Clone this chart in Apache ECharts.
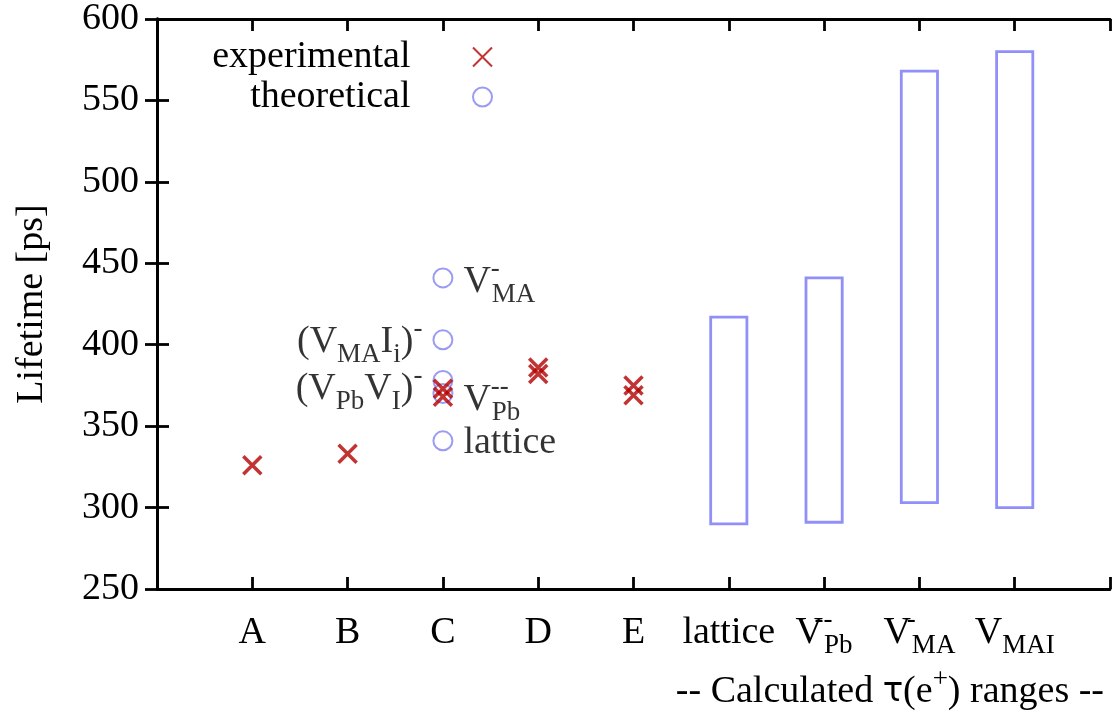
<!DOCTYPE html>
<html><head><meta charset="utf-8">
<script src="https://cdn.jsdelivr.net/npm/echarts@6/dist/echarts.min.js"></script>
<style>html,body{margin:0;padding:0;background:#fff}#c{width:1120px;height:713px}</style>
</head><body><div id="c"></div>
<script>
// ---- data ----
const categories = ['A', 'B', 'C', 'D', 'E', 'lattice', 'VPb', 'VMA', 'VMAI'];
const yTicks = [250, 300, 350, 400, 450, 500, 550, 600];
// experimental: position (1-based category index) and lifetime [ps]
const expX = [1, 2, 3, 3, 4, 4, 5, 5];
const expY = [326, 333, 373, 368, 386, 382, 375, 369];
// theoretical values at C
const theoX = [3, 3, 3, 3, 3];
const theoY = [441, 403, 378, 370, 341];
const theoNames = ['VMA', 'VMAIi', 'VPbVI', 'VPb', 'lattice'];
// calculated ranges
const rangeX = [6, 7, 8, 9];
const rangeLow = [290, 291, 303, 300];
const rangeHigh = [417, 441, 568, 580];

// ---- styling ----
const F = 'Liberation Serif';
const FS = 38, SS = 27, LH = 52, SH = 26;
const RED = '#b30000', BLUE = '#8282f0', BAR = '#9090f8';
const rich = {
  n: {fontFamily: F, fontSize: FS, color: '#000', lineHeight: LH},
  s: {fontFamily: F, fontSize: SS, color: '#000', lineHeight: LH, padding: [SH, 0, 0, 0]},
  p: {fontFamily: F, fontSize: SS, color: '#000', lineHeight: LH, padding: [0, 0, SH, 0]},
  q: {fontFamily: F, fontSize: SS, color: '#000', lineHeight: LH, padding: [0, 0, SH, 0], width: 1, overflow: 'none'},
  t: {fontFamily: 'DejaVu Sans', fontSize: 34, color: '#000', lineHeight: LH}
};
const labelText = {
  A: '{n|A}', B: '{n|B}', C: '{n|C}', D: '{n|D}', E: '{n|E}',
  lattice: '{n|lattice}',
  VPb: '{n|V}{q|--}{s|Pb}',
  VMA: '{n|V}{q|-}{s|MA}',
  VMAI: '{n|V}{s|MAI}',
  VMAIi: '{n|(V}{s|MA}{n|I}{s|i}{n|)}{p|-}',
  VPbVI: '{n|(V}{s|Pb}{n|V}{s|I}{n|)}{p|-}'
};
const theoPos = {VMA: 'right', VMAIi: 'left', VPbVI: 'left', VPb: 'right', lattice: 'right'};
const theoOff = {VMA: [0, 4], VMAIi: [0, 2], VPbVI: [0, 8], VPb: [0, 6], lattice: [0, 2]};

const expData = expX.map((x, i) => [x, expY[i]]);
const theoData = theoX.map((x, i) => ({
  value: [x, theoY[i]],
  label: {show: true, position: theoPos[theoNames[i]], distance: 10, offset: theoOff[theoNames[i]],
          formatter: labelText[theoNames[i]], rich: rich}
}));
const rangeData = rangeX.map((x, i) => [x, rangeLow[i], rangeHigh[i]]);

const axisLineStyle = {color: '#000', width: 2.8};
const tickStyle = {show: true, inside: true, length: 12, lineStyle: {color: '#000', width: 2.8}};

const chart = echarts.init(document.getElementById('c'), null, {renderer: 'canvas'});
chart.setOption({
  animation: false,
  backgroundColor: '#fff',
  grid: {left: 157, top: 18, right: 10, bottom: 124, containLabel: false},
  legend: {
    orient: 'vertical', right: 627, top: 37, padding: 0, itemGap: 0,
    align: 'right', itemWidth: 134, itemHeight: 19,
    textStyle: {fontFamily: F, fontSize: FS, color: '#000', lineHeight: 40},
    data: ['experimental', 'theoretical'], selectedMode: false
  },
  xAxis: [{
    type: 'value', min: 0, max: 10, interval: 1, position: 'bottom',
    axisLine: {show: true, lineStyle: axisLineStyle}, axisTick: tickStyle,
    splitLine: {show: false},
    axisLabel: {margin: 18, rich: rich,
      formatter: v => (v >= 1 && v <= categories.length) ? labelText[categories[v - 1]] : ''}
  }, {
    type: 'value', min: 0, max: 10, interval: 1, position: 'top',
    axisLine: {show: true, lineStyle: axisLineStyle}, axisTick: tickStyle,
    splitLine: {show: false}, axisLabel: {show: false}
  }],
  yAxis: [{
    type: 'value', min: yTicks[0], max: yTicks[yTicks.length - 1], interval: 50, position: 'left',
    axisLine: {show: true, lineStyle: axisLineStyle}, axisTick: tickStyle,
    splitLine: {show: false},
    axisLabel: {margin: 18, fontFamily: F, fontSize: FS, color: '#000'},
    name: 'Lifetime [ps]', nameLocation: 'middle', nameGap: 106,
    nameTextStyle: {fontFamily: F, fontSize: FS, color: '#000'}
  }, {
    type: 'value', min: yTicks[0], max: yTicks[yTicks.length - 1], interval: 50, position: 'right',
    axisLine: {show: true, lineStyle: axisLineStyle}, axisTick: tickStyle,
    splitLine: {show: false}, axisLabel: {show: false}
  }],
  graphic: [{
    type: 'text', right: 16, top: 666,
    style: {text: '{n|-- Calculated }{t|τ}{n|(e}{p|+}{n|) ranges --}', rich: rich, fill: '#000'}
  }],
  series: [{
    name: 'ranges', type: 'custom', xAxisIndex: 0, yAxisIndex: 0,
    renderItem: function (params, api) {
      const x = api.value(0), lo = api.value(1), hi = api.value(2);
      const p1 = api.coord([x - 0.19, hi]);
      const p2 = api.coord([x + 0.19, lo]);
      return {type: 'rect', shape: {x: p1[0], y: p1[1], width: p2[0] - p1[0], height: p2[1] - p1[1]},
              style: {fill: 'none', stroke: BAR, lineWidth: 2.8}};
    },
    data: rangeData, z: 2
  }, {
    name: 'theoretical', type: 'scatter', symbol: 'emptyCircle', symbolSize: 19,
    itemStyle: {color: BLUE, borderColor: BLUE, borderWidth: 2.8},
    data: theoData, z: 3
  }, {
    name: 'experimental', type: 'scatter', symbol: 'path://M0,0L10,10M10,0L0,10', symbolSize: 18,
    itemStyle: {color: RED, borderColor: RED, borderWidth: 3.5},
    data: expData, z: 4
  }]
});
</script></body></html>
